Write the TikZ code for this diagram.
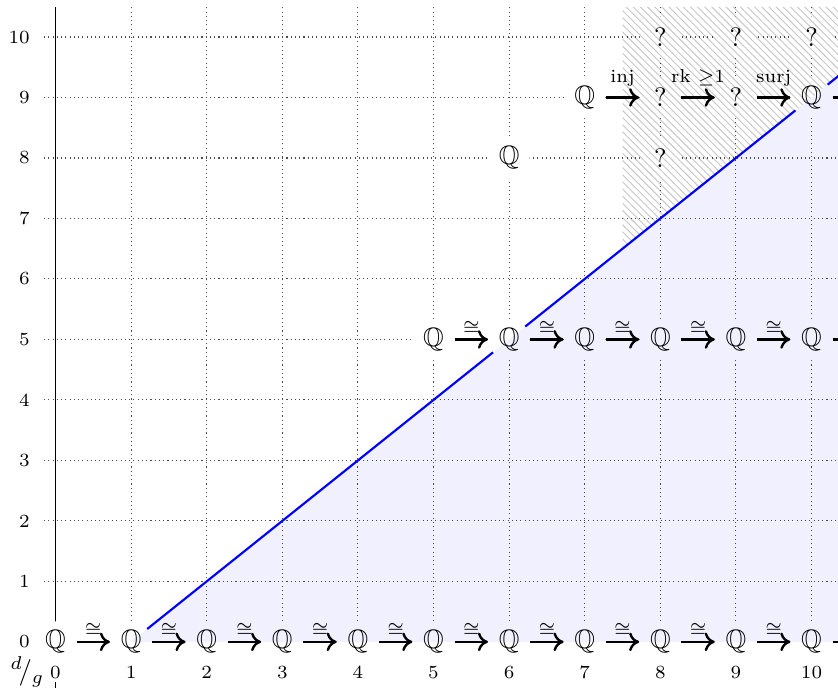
\documentclass[tikz,border=0pt]{standalone}
\usepackage{amssymb}
\usetikzlibrary{arrows.meta,patterns.meta}
\begin{document}
\begin{tikzpicture}[x=1cm,y=0.8cm,
  cls/.style={circle,minimum size=15.5pt,inner sep=0pt,fill=white},
  lbl/.style={font=\scriptsize,inner sep=1.5pt},
  txtlbl/.style={font=\scriptsize,inner sep=0pt,anchor=base,yshift=5.6pt},
  tick/.style={font=\scriptsize,inner sep=1.5pt,fill=white},
  dif/.style={line width=0.9pt,-{Computer Modern Rightarrow[length=3.8pt,width=7pt]}},
  gridline/.style={line width=0.4pt,dash pattern=on 0.4pt off 1.2pt,black!70},
]
\useasboundingbox (-0.734,-0.753) rectangle (10.35,10.612);
\clip (-0.734,-0.753) rectangle (10.35,10.612);
% grid
\foreach \x in {1,...,10} \draw[gridline] (\x,0) -- (\x,10.5);
\foreach \y in {1,...,10} \draw[gridline] (-0.15,\y) -- (10.6,\y);
% axis
\draw[line width=0.6pt] (0,-0.8) -- (0,10.5);
% boundary line
\draw[blue,line width=0.8pt] (1,0) -- (11.6,10.6);
% classes
\foreach \x in {0,...,10} \node[cls] (a\x) at (\x,0) {$\mathbb{Q}$};
\foreach \x in {5,...,10} \node[cls] (b\x) at (\x,5) {$\mathbb{Q}$};
\node[cls] (c6) at (6,8) {$\mathbb{Q}$};
\node[cls] (c8) at (8,8) {?};
\node[cls] (d7) at (7,9) {$\mathbb{Q}$};
\node[cls] (d8) at (8,9) {?};
\node[cls] (d9) at (9,9) {?};
\node[cls] (d10) at (10,9) {$\mathbb{Q}$};
\foreach \x in {8,9,10} \node[cls] (e\x) at (\x,10) {?};
\coordinate (a11) at (11,0);
\coordinate (b11) at (11,5);
\coordinate (d11) at (11,9);
% arrows
\foreach \x [evaluate=\x as \n using int(\x+1)] in {0,...,9}
  \draw[dif] (a\x) -- node[lbl,above]{$\cong$} (a\n);
\draw[dif] (a10) -- (a11);
\foreach \x [evaluate=\x as \n using int(\x+1)] in {5,...,9}
  \draw[dif] (b\x) -- node[lbl,above]{$\cong$} (b\n);
\draw[dif] (b10) -- (b11);
\draw[dif] (d7) -- node[txtlbl]{inj} (d8);
\draw[dif] (d8) -- node[txtlbl]{rk $\geq$1} (d9);
\draw[dif] (d9) -- node[txtlbl]{surj} (d10);
\draw[dif] (d10) -- (d11);
% tick labels
\foreach \x in {0,...,10} \node[tick] (tx\x) at (\x,-0.5) {\x};
\foreach \y in {0,...,10} \node[tick,anchor=east] (ty\y) at (-0.28,\y) {\y};
\node[inner sep=1pt] (dg) at (-0.37,-0.5) {$^{d}\!/_{g}$};
% shaded region
\fill[blue!6,blend mode=multiply] (1,0) -- (11.6,10.6) -- (11.6,0) -- cycle;
% hatched region
\fill[blend mode=multiply,pattern={Lines[angle=-45,distance=1.9pt,line width=0.35pt]},pattern color=black!22]
  (7.5,6.5) -- (7.5,10.5) -- (11.5,10.5) -- cycle;
\end{tikzpicture}
\end{document}
